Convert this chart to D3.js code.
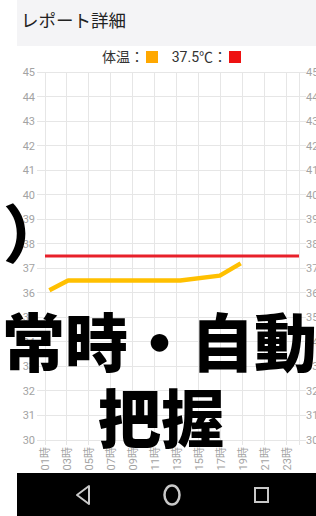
<!DOCTYPE html>
<html>
<head>
<meta charset="utf-8">
<script src="https://cdn.jsdelivr.net/npm/d3@7"></script>
<style>
  html, body { margin: 0; padding: 0; background: #fff; }
  svg { display: block; }
</style>
</head>
<body>
<div id="chart"></div>
<script>
// data
const hourTicks = [1, 3, 5, 7, 9, 11, 13, 15, 17, 19, 21, 23];
const hourLabels = ["01時", "03時", "05時", "07時", "09時", "11時", "13時", "15時", "17時", "19時", "21時", "23時"];
const tempTicks = [30, 31, 32, 33, 34, 35, 36, 37, 38, 39, 40, 41, 42, 43, 44, 45];
const measureHours = [1.4, 3.1, 13.3, 16.9, 18.8];
const bodyTemps = [36.1, 36.5, 36.5, 36.7, 37.2];
const alertTemp = 37.5;
const legendLabels = ["体温：", "37.5℃："];
const legendColors = ["#ffa800", "#ee1111"];

const width = 316, height = 516;
const screenLeft = 17;
const marginTop = 72, marginBottom = 76, marginLeft = 45, marginRight = 17;
const gray = "#a3a3a3";
const cjk = "Roboto, 'Noto Sans CJK JP', sans-serif";

const x = d3.scaleLinear()
  .domain([1, 24.1])
  .range([marginLeft, width - marginRight]);

const y = d3.scaleLinear()
  .domain([30, 45])
  .range([height - marginBottom, marginTop]);

const svg = d3.select("#chart").append("svg")
  .attr("width", width)
  .attr("height", height)
  .attr("viewBox", [0, 0, width, height])
  .style("font-family", cjk);

// app header
svg.append("rect")
  .attr("x", screenLeft).attr("y", 0)
  .attr("width", width - screenLeft).attr("height", 46)
  .attr("fill", "#f4f4f6");

svg.append("text")
  .attr("x", 21).attr("y", 27)
  .attr("font-size", 17.5)
  .attr("fill", "#222")
  .text("レポート詳細");

// legend
const legendEnds = [144, 227];
legendLabels.forEach((label, i) => {
  svg.append("text")
    .attr("x", legendEnds[i]).attr("y", 62)
    .attr("text-anchor", "end")
    .attr("font-size", 14)
    .attr("fill", "#333")
    .text(label);
  svg.append("rect")
    .attr("x", legendEnds[i] + 2).attr("y", 51)
    .attr("width", 12).attr("height", 12)
    .attr("fill", legendColors[i]);
});

// grid
const grid = svg.append("g")
  .attr("stroke", "#e6e6e6")
  .attr("stroke-width", 1)
  .attr("shape-rendering", "crispEdges");

grid.selectAll("line.h")
  .data(tempTicks)
  .join("line")
  .attr("class", "h")
  .attr("x1", marginLeft - 8)
  .attr("x2", width - marginRight + 7)
  .attr("y1", d => y(d)).attr("y2", d => y(d));

grid.selectAll("line.v")
  .data(hourTicks.concat([x.domain()[1]]))
  .join("line")
  .attr("class", "v")
  .attr("x1", d => x(d)).attr("x2", d => x(d))
  .attr("y1", y(45))
  .attr("y2", y(30) + 5);

// y axes (both sides)
svg.append("g")
  .attr("transform", `translate(${marginLeft - 8},0)`)
  .call(d3.axisLeft(y).tickValues(tempTicks).tickSize(0).tickPadding(2))
  .call(g => g.select(".domain").remove())
  .call(g => g.selectAll("text")
    .attr("fill", gray)
    .attr("font-size", 11)
    .attr("font-family", cjk));

svg.append("g")
  .attr("transform", `translate(${width - marginRight + 7},0)`)
  .call(d3.axisRight(y).tickValues(tempTicks).tickSize(0).tickPadding(0))
  .call(g => g.select(".domain").remove())
  .call(g => g.selectAll("text")
    .attr("fill", gray)
    .attr("font-size", 11)
    .attr("font-family", cjk));

// x axis, rotated hour labels
svg.append("g")
  .attr("transform", `translate(0,${y(30)})`)
  .call(d3.axisBottom(x).tickValues(hourTicks)
    .tickFormat((d, i) => hourLabels[i]).tickSize(0))
  .call(g => g.select(".domain").remove())
  .call(g => g.selectAll("text")
    .attr("fill", gray)
    .attr("font-size", 11)
    .attr("font-family", cjk)
    .attr("text-anchor", "end")
    .attr("dy", null)
    .attr("dominant-baseline", "central")
    .attr("transform", "translate(0,7) rotate(-90)")
    .attr("x", 0).attr("y", 0));

// 37.5 threshold line
svg.append("line")
  .attr("x1", x.range()[0]).attr("x2", x.range()[1])
  .attr("y1", y(alertTemp)).attr("y2", y(alertTemp))
  .attr("stroke", "#e8202a")
  .attr("stroke-width", 3);

// body temperature line
const points = measureHours.map((h, i) => [h, bodyTemps[i]]);
svg.append("path")
  .datum(points)
  .attr("fill", "none")
  .attr("stroke", "#ffc000")
  .attr("stroke-width", 4.5)
  .attr("stroke-linejoin", "round")
  .attr("d", d3.line().x(d => x(d[0])).y(d => y(d[1])));

// android nav bar
svg.append("rect")
  .attr("x", screenLeft).attr("y", 473)
  .attr("width", width - screenLeft).attr("height", height - 473)
  .attr("fill", "#000");

const nav = svg.append("g")
  .attr("fill", "none")
  .attr("stroke", "#c8c8c8")
  .attr("stroke-width", 2);
nav.append("path").attr("d", "M89,486 L89,504 L77,495 Z").attr("stroke-linejoin", "round");
nav.append("ellipse").attr("cx", 172).attr("cy", 495).attr("rx", 7.5).attr("ry", 9.5).attr("stroke-width", 2.5);
nav.append("rect").attr("x", 255).attr("y", 488).attr("width", 13).attr("height", 14);

// overlay caption
const caption = svg.append("g")
  .attr("fill", "#000")
  .attr("font-family", "'Noto Sans CJK JP', sans-serif")
  .attr("font-weight", 900)
  .attr("font-size", 63);

caption.append("text").attr("x", 3).attr("y", 257).text("）");
caption.append("text").attr("x", 2).attr("y", 366).text("常時・自動");
caption.append("text").attr("x", 161).attr("y", 442).attr("text-anchor", "middle").text("把握");
</script>
</body>
</html>
